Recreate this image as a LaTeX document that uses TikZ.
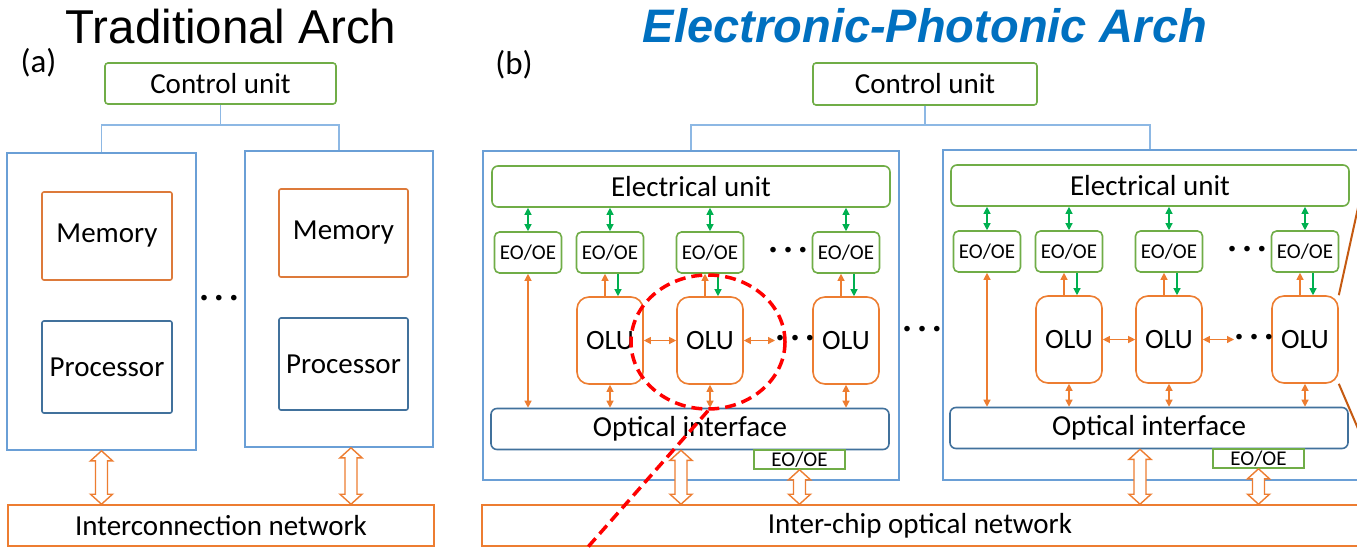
\documentclass[tikz,border=0pt]{standalone}
\usepackage{fontspec}
\setmainfont{Carlito}
\newfontfamily\arialf{Liberation Sans}
\usetikzlibrary{arrows.meta,shapes.geometric,calc}
\definecolor{cgreen}{HTML}{70AD47}
\definecolor{cblue}{HTML}{6A9FD6}
\definecolor{ctreec}{HTML}{8DB8E4}
\definecolor{cmem}{HTML}{DD7A3A}
\definecolor{cproc}{HTML}{41719C}
\definecolor{corange}{HTML}{ED7D31}
\definecolor{cgarr}{HTML}{00B050}
\definecolor{ctitle}{HTML}{0070C0}
\definecolor{cbrown}{HTML}{C55A11}
\newcommand\hollowarr[2]{%
  \path let \p1=(#1), \p2=(#2) in
  [draw=corange, fill=white, line width=1.4pt, line join=miter]
  (\x1,\y1) -- (\x1+11pt,\y1-10pt) -- (\x1+6pt,\y1-10pt) -- (\x1+6pt,\y2+10pt)
  -- (\x1+11pt,\y2+10pt) -- (\x1,\y2) -- (\x1-11pt,\y2+10pt) -- (\x1-6pt,\y2+10pt)
  -- (\x1-6pt,\y1-10pt) -- (\x1-11pt,\y1-10pt) -- cycle;}
\begin{document}
\begin{tikzpicture}[x=1pt,y=-1pt,
  lbl/.style={font=\fontsize{29}{32}\selectfont},
  gbox/.style={draw=cgreen, line width=1.6pt, rounded corners=3pt, inner sep=0pt, lbl},
  bigbox/.style={draw=cblue, line width=1.6pt, inner sep=0pt},
  mbox/.style={draw=cmem, line width=1.6pt, rounded corners=2pt, inner sep=0pt, lbl},
  pbox/.style={draw=cproc, line width=1.6pt, rounded corners=2pt, inner sep=0pt, lbl},
  obox/.style={draw=corange, line width=1.6pt, inner sep=0pt, lbl},
  olubox/.style={draw=corange, line width=1.6pt, rounded corners=12pt, inner sep=0pt, font=\fontsize{28}{30}\selectfont, minimum width=66pt, minimum height=87pt},
  eobox/.style={draw=cgreen, line width=1.6pt, rounded corners=5pt, inner sep=0pt, font=\fontsize{21}{24}\selectfont, minimum width=67pt, minimum height=41pt},
  optbox/.style={draw=cproc, line width=1.6pt, rounded corners=6pt, inner sep=0pt, lbl, minimum width=398pt, minimum height=41pt},
  ctl/.style={draw=ctreec, line width=1.6pt},
  oa/.style={draw=corange, line width=1.2pt, {Triangle[length=7pt,width=7pt]}-{Triangle[length=7pt,width=7pt]}},
  oup/.style={draw=corange, line width=1.2pt, -{Triangle[length=7pt,width=7pt]}},
  ga/.style={draw=cgarr, line width=1.2pt, {Triangle[length=7pt,width=7pt]}-{Triangle[length=7pt,width=7pt]}},
  gdn/.style={draw=cgarr, line width=1.2pt, -{Triangle[length=7pt,width=7pt]}},
  ellip/.style={font=\bfseries\fontsize{30}{30}\selectfont, inner sep=0pt},
  reddash/.style={draw=red, line width=3.5pt, dash pattern=on 11pt off 6pt},
]
\useasboundingbox (0,0) rectangle (1357,547);
\clip (0,0) rectangle (1357,547);
\fill[white] (0,0) rectangle (1357,547);

% ---------------- panel (a)
\node[font=\arialf\fontsize{47.5}{50}\selectfont, anchor=base, inner sep=0pt] (titA) at (231,43) {Traditional Arch};
\node[font=\fontsize{33}{34}\selectfont, inner sep=0pt] (labA) at (38.5,63) {(a)};
\node[gbox, minimum width=231pt, minimum height=41pt] (CUa) at (220.5,83.5) {Control unit};
\node[bigbox, minimum width=189pt, minimum height=297pt] (LA) at (101.5,301.5) {};
\node[bigbox, minimum width=188pt, minimum height=296pt] (RA) at (339,299) {};
\node[mbox, minimum width=130pt, minimum height=88pt] (MLa) at (107,236) {Memory};
\node[mbox, minimum width=129pt, minimum height=88pt] (MRa) at (343.5,233) {Memory};
\node[pbox, minimum width=130pt, minimum height=92pt] (PLa) at (107,367) {Processor};
\node[pbox, minimum width=129pt, minimum height=92pt] (PRa) at (343.5,364) {Processor};
\node[ellip] (dA) at (219,301) {· · ·};
\node[obox, minimum width=426pt, minimum height=41pt] (INa) at (221,525.5) {Interconnection network};
\draw[ctl] (CUa.south) -- ++(0,20) coordinate (jA);
\draw[ctl] (LA.north) |- (jA) -| (RA.north);
\hollowarr{LA.south}{LA.south |- INa.north}
\coordinate (hA2) at ([xshift=12pt]RA.south);
\hollowarr{hA2}{hA2 |- INa.north}

% ---------------- panel (b)
\node[font=\arialf\bfseries\itshape\fontsize{47}{50}\selectfont, text=ctitle, anchor=base, inner sep=0pt] (titB) at (925,42) {Electronic-Photonic Arch};
\node[font=\fontsize{33}{34}\selectfont, inner sep=0pt] (labB) at (514,65) {(b)};
\node[gbox, minimum width=224pt, minimum height=42pt] (CUb) at (925,84) {Control unit};
\node[bigbox, minimum width=416pt, minimum height=329pt] (LB) at (691,315.5) {};
\node[bigbox, minimum width=418pt, minimum height=330pt] (RB) at (1152,315) {};
\draw[ctl] (CUb.south) -- ++(0,19) coordinate (jB);
\draw[ctl] (LB.north) |- (jB) -| ([xshift=-2pt]RB.north);
\node[obox, minimum width=876pt, minimum height=41pt] (NET) at (920,525.5) {Inter-chip optical network};
\node[ellip] (dB) at (922,332) {· · ·};

\foreach \c/\dx/\dy in {L/0/0,R/459/-1}{
  \begin{scope}[shift={(\dx,\dy)}]
    \node[gbox, rounded corners=6pt, minimum width=398pt, minimum height=41pt] (EU\c) at (691,186.5) {Electrical unit};
    \node[eobox] (E1\c) at (528,252.5) {EO/OE};
    \node[eobox] (E2\c) at (610,252.5) {EO/OE};
    \node[eobox] (E3\c) at (710,252.5) {EO/OE};
    \node[eobox] (E4\c) at (846,252.5) {EO/OE};
    \node[ellip] (dt\c) at (788,253) {· · ·};
    \node[olubox] (O1\c) at (610,340.5) {OLU};
    \node[olubox] (O2\c) at (710,340.5) {OLU};
    \node[olubox] (O3\c) at (846,340.5) {OLU};
    \node[ellip] (dm\c) at (795,341) {· · ·};
    \coordinate (ae\c) at (775,340.5);
    \node[optbox] (OP\c) at (690,429) {Optical interface};
    \node[gbox, sharp corners, font=\fontsize{21}{24}\selectfont, minimum width=91pt, minimum height=19pt] (EB\c) at (799.5,459.5) {EO/OE};
    \coordinate (h1\c) at ([xshift=-9pt]OP\c.south);
  \end{scope}
  \foreach \k in {1,2,3,4}{
    \draw[ga] (E\k\c.north) -- (E\k\c.north |- EU\c.south);
  }
  \draw[oa] (E1\c.south) -- (E1\c.south |- OP\c.north);
  \foreach \k/\e in {1/2,2/3,3/4}{
    \draw[oup] ([xshift=-5pt]O\k\c.north) -- ([xshift=-5pt]E\e\c.south);
    \draw[gdn] ([xshift=8pt]E\e\c.south) -- ([xshift=8pt]O\k\c.north);
    \draw[oa] (O\k\c.south) -- (O\k\c.south |- OP\c.north);
  }
  \draw[oa] (O1\c.east) -- (O2\c.west);
  \draw[oa] (O2\c.east) -- (ae\c);
  \hollowarr{h1\c}{h1\c |- NET.north}
  \hollowarr{EB\c.south}{EB\c.south |- NET.north}
}

% zoom connectors
\coordinate (bl1) at (1363,185);
\coordinate (bl2) at (1365,445);
\draw[cbrown, line width=2pt] (O3R.north east) -- (bl1);
\draw[cbrown, line width=2pt] (O3R.south east) -- (bl2);
\node[reddash, ellipse, minimum width=154pt, minimum height=134pt, inner sep=0pt] (zc) at (708,342) {};
\coordinate (zend) at (580,556);
\draw[reddash] (zc.south) -- (zend);
\end{tikzpicture}
\end{document}
